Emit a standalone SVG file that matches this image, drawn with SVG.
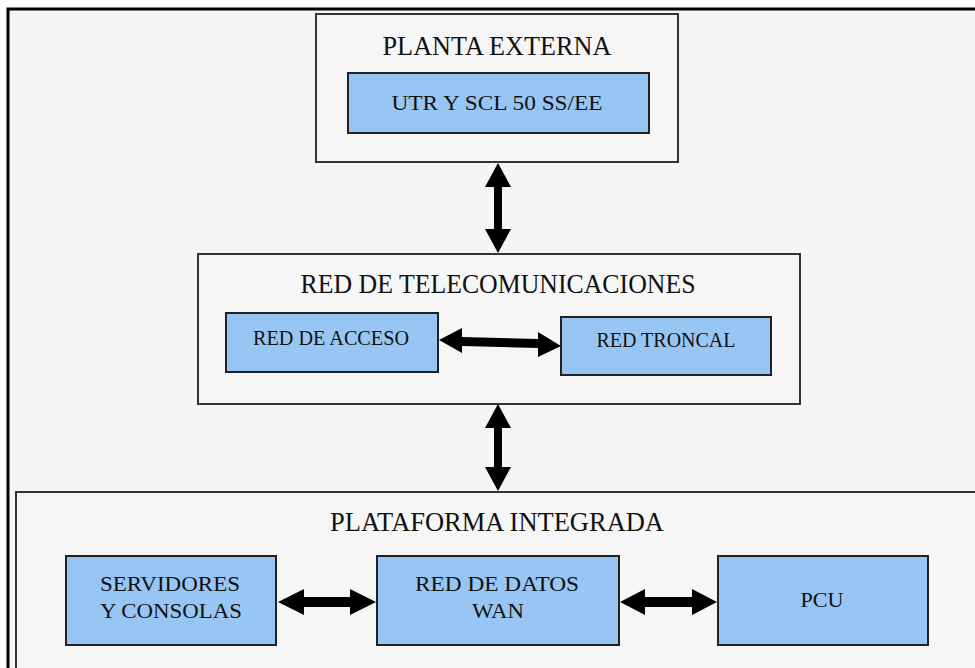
<svg xmlns="http://www.w3.org/2000/svg" width="975" height="668" viewBox="0 0 975 668">
<style>
.frame{fill:#f5f5f5;stroke:#000;stroke-width:3}
.cont{fill:#f6f6f6;stroke:#333;stroke-width:2}
.blue{fill:#98c6f4;stroke:#222;stroke-width:2}
.t{font-family:"Liberation Serif","Times New Roman",serif;fill:#111;text-anchor:middle}
.big{font-size:27px}
.sm{font-size:22px}
.arr{fill:#000}
</style>
<rect x="0" y="0" width="975" height="668" fill="#ffffff"/>
<rect class="frame" x="8" y="9" width="1000" height="700"/>
<g id="planta-externa">
<rect class="cont" x="316" y="14" width="362" height="148"/>
<text class="t big" x="497" y="55" textLength="229" lengthAdjust="spacingAndGlyphs">PLANTA EXTERNA</text>
</g>
<g id="utr">
<rect class="blue" x="348" y="73" width="301" height="60"/>
<text class="t sm" x="497" y="110" textLength="211" lengthAdjust="spacingAndGlyphs">UTR Y SCL 50 SS/EE</text>
</g>
<g id="red-telecom">
<rect class="cont" x="198" y="254" width="602" height="150"/>
<text class="t big" x="498" y="293" textLength="395" lengthAdjust="spacingAndGlyphs">RED DE TELECOMUNICACIONES</text>
</g>
<g id="red-acceso">
<rect class="blue" x="226" y="313" width="212" height="59"/>
<text class="t sm" x="331" y="345" textLength="156" lengthAdjust="spacingAndGlyphs">RED DE ACCESO</text>
</g>
<g id="red-troncal">
<rect class="blue" x="561" y="317" width="210" height="58"/>
<text class="t sm" x="666" y="347" textLength="139" lengthAdjust="spacingAndGlyphs">RED TRONCAL</text>
</g>
<g id="plataforma">
<rect class="cont" x="16" y="492" width="1000" height="220"/>
<text class="t big" x="497" y="531" textLength="334" lengthAdjust="spacingAndGlyphs">PLATAFORMA INTEGRADA</text>
</g>
<g id="servidores">
<rect class="blue" x="66" y="556" width="210" height="89"/>
<text class="t sm" x="170" y="591" textLength="140" lengthAdjust="spacingAndGlyphs">SERVIDORES</text>
<text class="t sm" x="171" y="618" textLength="142" lengthAdjust="spacingAndGlyphs">Y CONSOLAS</text>
</g>
<g id="red-datos">
<rect class="blue" x="377" y="556" width="242" height="89"/>
<text class="t sm" x="497" y="591" textLength="164" lengthAdjust="spacingAndGlyphs">RED DE DATOS</text>
<text class="t sm" x="498" y="618" textLength="52" lengthAdjust="spacingAndGlyphs">WAN</text>
</g>
<g id="pcu">
<rect class="blue" x="718" y="556" width="210" height="89"/>
<text class="t sm" x="822" y="607" textLength="43" lengthAdjust="spacingAndGlyphs">PCU</text>
</g>
<g id="connectors">
<polygon class="arr" points="498,163 511,187 502,187 502,229 511,229 498,253 485,229 494,229 494,187 485,187"/>
<polygon class="arr" points="498,404 511,428 502,428 502,467 511,467 498,491 485,467 494,467 494,428 485,428"/>
<polygon class="arr" points="439,340 462,328 462,337 538,339 538,332 561,346 538,357 538,348 462,346 462,353"/>
<polygon class="arr" points="278,602 304,589 304,597 350,597 350,589 376,602 350,615 350,607 304,607 304,615"/>
<polygon class="arr" points="620,602 645,589 645,597 692,597 692,589 717,602 692,615 692,607 645,607 645,615"/>
</g>
</svg>
